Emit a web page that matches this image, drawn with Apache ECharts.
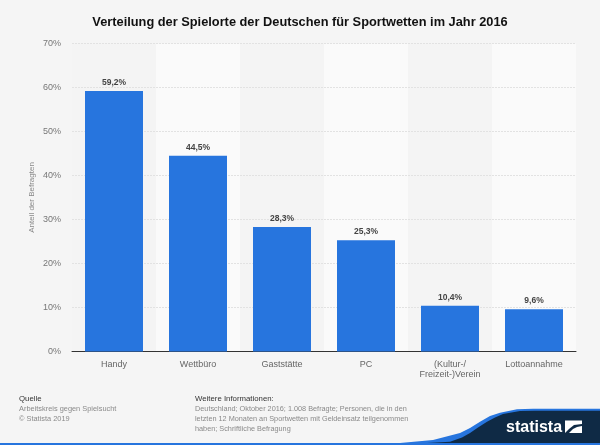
<!DOCTYPE html>
<html>
<head>
<meta charset="utf-8">
<style>
html, body { margin: 0; padding: 0; background: #f5f5f5; }
#chart { width: 600px; height: 445px; }
</style>
<script src="https://cdn.jsdelivr.net/npm/echarts@6/dist/echarts.min.js"></script>
</head>
<body>
<div id="chart"></div>
<script>
var categories = ['Handy', 'Wettbüro', 'Gaststätte', 'PC', '(Kultur-/\nFreizeit-)Verein', 'Lottoannahme'];
var shares = [59.2, 44.5, 28.3, 25.3, 10.4, 9.6];
var yTicks = { min: 0, max: 70, interval: 10 };
var fontName = '"Liberation Sans", Arial, sans-serif';

// Zahlen mit Komma wie im Original
function percentLabel(p) {
    return String(p.value.toFixed(1)).replace('.', ',') + '%';
}

function footerText(x, y, text, color, size) {
    return {
        type: 'text', x: x, y: y, silent: true,
        style: { text: text, fill: color, font: size + 'px ' + fontName, lineHeight: 10 }
    };
}

var chart = echarts.init(document.getElementById('chart'), null, { renderer: 'canvas' });
chart.setOption({
    animation: false,
    backgroundColor: '#f5f5f5',
    title: {
        text: 'Verteilung der Spielorte der Deutschen für Sportwetten im Jahr 2016',
        left: 'center',
        top: 11,
        textStyle: { color: '#111', fontFamily: fontName, fontSize: 12.8, fontWeight: 'bold' }
    },
    grid: { left: 72, right: 24, top: 43.5, bottom: 93.5 },
    xAxis: {
        type: 'category',
        data: categories,
        z: 0,
        axisTick: { show: false },
        axisLine: { lineStyle: { color: '#333', width: 1 } },
        splitArea: { show: true, areaStyle: { color: ['#f4f4f4', '#fafafa'] } },
        axisLabel: { interval: 0, color: '#666', fontFamily: fontName, fontSize: 9, margin: 8, lineHeight: 10 }
    },
    yAxis: {
        type: 'value',
        min: yTicks.min,
        max: yTicks.max,
        interval: yTicks.interval,
        z: 1,
        name: 'Anteil der Befragten',
        nameLocation: 'middle',
        nameGap: 36,
        nameMoveOverlap: false,
        nameTextStyle: { color: '#888', fontFamily: fontName, fontSize: 8 },
        axisLine: { show: false },
        axisTick: { show: false },
        splitLine: { showMinLine: false, lineStyle: { color: '#e2e2e2', type: [2, 1], width: 1 } },
        axisLabel: {
            color: '#777', fontFamily: fontName, fontSize: 9, margin: 11,
            padding: [2, 0, 0, 0],
            formatter: '{value}%'
        }
    },
    series: [{
        type: 'bar',
        data: shares,
        barWidth: 58,
        itemStyle: { color: '#2775de' },
        label: {
            show: true,
            position: 'top',
            distance: 4,
            color: '#444',
            fontFamily: fontName,
            fontSize: 8.5,
            fontWeight: 'bold',
            formatter: percentLabel
        }
    }],
    graphic: { elements: [
        footerText(19, 393.5, 'Quelle', '#333', 7.8),
        footerText(19, 403.5, 'Arbeitskreis gegen Spielsucht\n© Statista 2019', '#8a8a8a', 7.4),
        footerText(195, 393.5, 'Weitere Informationen:', '#333', 7.8),
        footerText(195, 403.5, 'Deutschland; Oktober 2016; 1.008 Befragte; Personen, die in den\nletzten 12 Monaten an Sportwetten mit Geldeinsatz teilgenommen\nhaben; Schriftliche Befragung', '#8a8a8a', 7.3),
        // blaue Linie und Welle unten
        { type: 'rect', silent: true, shape: { x: 0, y: 443, width: 600, height: 2 }, style: { fill: '#2775de' } },
        { type: 'polygon', silent: true, shape: { points: [[380, 445], [400, 443], [433, 440], [460, 433], [470, 428], [480, 421.7], [490, 416], [500, 412.7], [517, 409.2], [533, 408.7], [600, 408.7], [600, 445]] }, style: { fill: '#2775de' } },
        { type: 'polygon', silent: true, shape: { points: [[427, 443], [450, 441.7], [462, 437.5], [470, 433], [478, 427.5], [487, 421.7], [495, 417.5], [503, 414], [520, 411], [535, 410.8], [600, 410.8], [600, 443]] }, style: { fill: '#0f2a45' } },
        { type: 'text', silent: true, x: 506, y: 420, style: { text: 'statista', fill: '#fff', font: 'bold 16px ' + fontName } },
        { type: 'polygon', silent: true, shape: { points: [[565, 420.5], [582, 420.5], [582, 424], [574, 425], [569, 429], [565, 433]] }, style: { fill: '#fff' } },
        { type: 'polygon', silent: true, shape: { points: [[582, 426], [582, 433], [569, 433], [573, 429], [577, 427]] }, style: { fill: '#fff' } }
    ] }
});
</script>
</body>
</html>
